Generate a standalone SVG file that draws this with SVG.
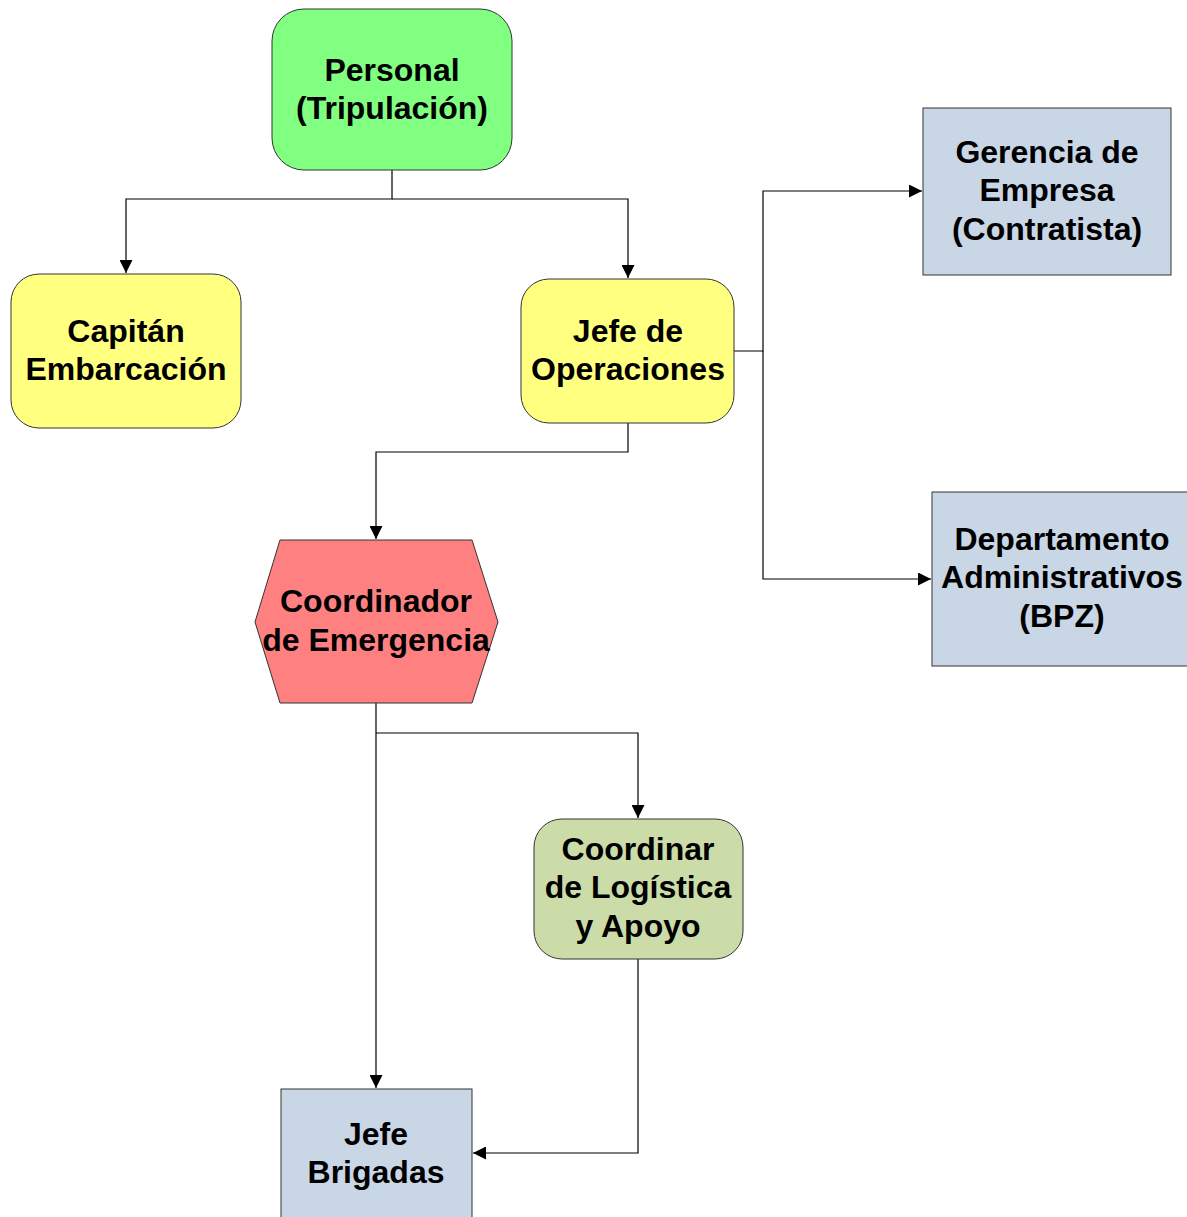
<svg xmlns="http://www.w3.org/2000/svg" width="1187" height="1217" viewBox="0 0 1187 1217">
<defs>
<style>
.t{font-family:"Liberation Sans",Arial,sans-serif;font-weight:bold;font-size:32px;fill:#000;text-anchor:middle}
.n{stroke:#333;stroke-width:1}
.c{fill:none;stroke:#000;stroke-width:1.2}
</style>
<marker id="a" markerWidth="13" markerHeight="13" viewBox="0 0 13 13" refX="13" refY="6.5" orient="auto" markerUnits="userSpaceOnUse">
<path d="M0,0 L13,6.5 L0,13 Z" fill="#000"/>
</marker>
</defs>
<rect width="1187" height="1217" fill="#fff"/>
<g id="connectors">
<path class="c" d="M392,170 V199 H126 V273" marker-end="url(#a)"/>
<path class="c" d="M392,199 H628 V278" marker-end="url(#a)"/>
<path class="c" d="M734,351 H763 V191 H922" marker-end="url(#a)"/>
<path class="c" d="M763,351 V579 H931" marker-end="url(#a)"/>
<path class="c" d="M628,423 V452 H376 V539" marker-end="url(#a)"/>
<path class="c" d="M376,703 V1088" marker-end="url(#a)"/>
<path class="c" d="M376,733 H638 V818" marker-end="url(#a)"/>
<path class="c" d="M638,959 V1153 H473" marker-end="url(#a)"/>
</g>
<g id="personal">
<rect class="n" x="272" y="9" width="240" height="161" rx="32" fill="#80FF80"/>
<text class="t" x="392" y="81">Personal</text>
<text class="t" x="392" y="119">(Tripulación)</text>
</g>
<g id="capitan">
<rect class="n" x="11" y="274" width="230" height="154" rx="28" fill="#FFFF80"/>
<text class="t" x="126" y="342">Capitán</text>
<text class="t" x="126" y="380">Embarcación</text>
</g>
<g id="jefe-operaciones">
<rect class="n" x="521" y="279" width="213" height="144" rx="28" fill="#FFFF80"/>
<text class="t" x="628" y="342">Jefe de</text>
<text class="t" x="628" y="380">Operaciones</text>
</g>
<g id="gerencia">
<rect class="n" x="923" y="108" width="248" height="167" fill="#C9D6E6"/>
<text class="t" x="1047" y="163">Gerencia de</text>
<text class="t" x="1047" y="201">Empresa</text>
<text class="t" x="1047" y="240">(Contratista)</text>
</g>
<g id="departamento">
<rect class="n" x="932" y="492" width="260" height="174" fill="#C9D6E6"/>
<text class="t" x="1062" y="550">Departamento</text>
<text class="t" x="1062" y="588">Administrativos</text>
<text class="t" x="1062" y="627">(BPZ)</text>
</g>
<g id="coordinador-emergencia">
<polygon class="n" points="280,540 472,540 498,622 472,703 280,703 255,622" fill="#FF8080"/>
<text class="t" x="376" y="612">Coordinador</text>
<text class="t" x="376" y="651">de Emergencia</text>
</g>
<g id="coordinar-logistica">
<rect class="n" x="534" y="819" width="209" height="140" rx="28" fill="#CCDCA8"/>
<text class="t" x="638" y="860">Coordinar</text>
<text class="t" x="638" y="898">de Logística</text>
<text class="t" x="638" y="937">y Apoyo</text>
</g>
<g id="jefe-brigadas">
<rect class="n" x="281" y="1089" width="191" height="140" fill="#C9D6E6"/>
<text class="t" x="376" y="1145">Jefe</text>
<text class="t" x="376" y="1183">Brigadas</text>
</g>
</svg>
